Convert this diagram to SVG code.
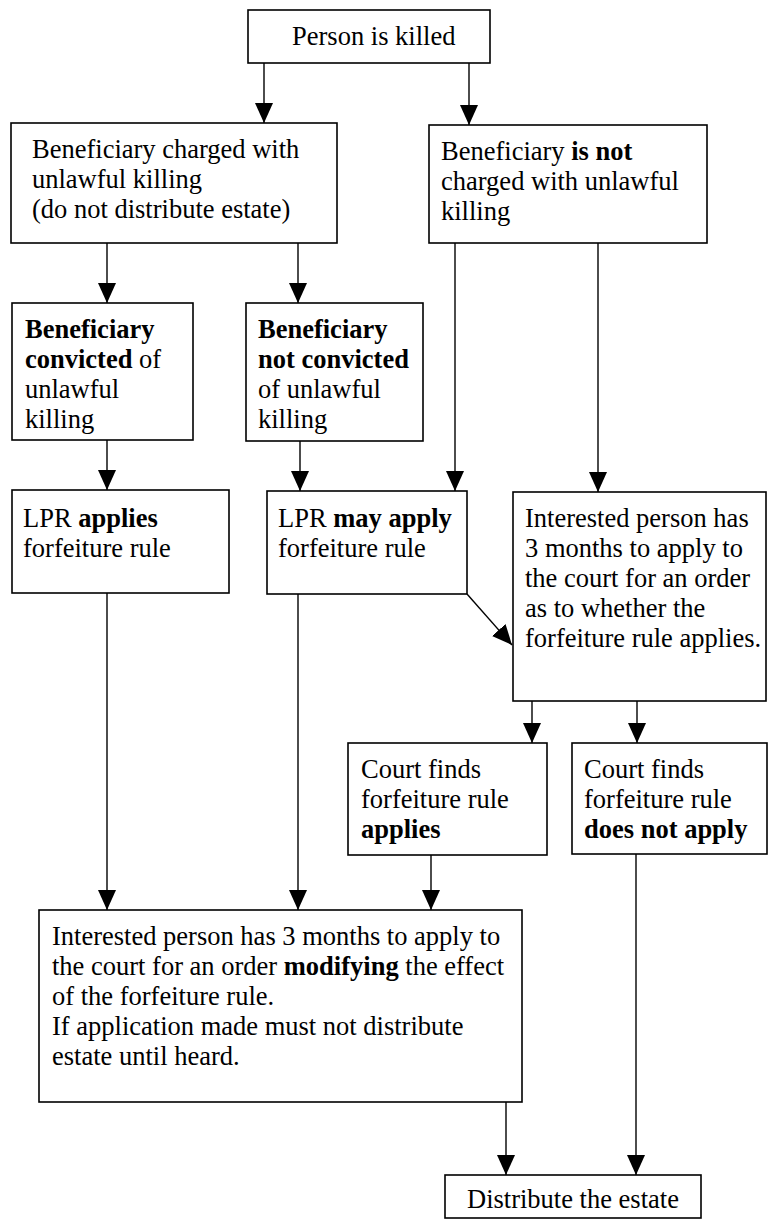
<svg xmlns="http://www.w3.org/2000/svg" width="768" height="1219" viewBox="0 0 768 1219">
<style>
.box{fill:#fff;stroke:#000;stroke-width:1.6}
.b{font-weight:bold}
.c{fill:none;stroke:#000;stroke-width:1.4}
</style>
<defs>
<marker id="ah" viewBox="0 0 20 18" markerWidth="20" markerHeight="18" refX="20" refY="9" orient="auto" markerUnits="userSpaceOnUse">
<path d="M0,0 L20,9 L0,18 z" fill="#000"/>
</marker>
</defs>
<rect width="768" height="1219" fill="#fff"/>
<g font-family="Liberation Serif, serif" font-size="26.5" fill="#000">
<g id="n1">
<rect class="box" x="248" y="10" width="242" height="53"/>
<text x="292" y="45">Person is killed</text>
</g>
<g id="n2">
<rect class="box" x="11" y="123" width="326" height="120"/>
<text x="32" y="158">Beneficiary charged with</text>
<text x="32" y="188">unlawful killing</text>
<text x="32" y="218">(do not distribute estate)</text>
</g>
<g id="n3">
<rect class="box" x="429" y="125" width="278" height="118"/>
<text x="441" y="160">Beneficiary <tspan class="b">is not</tspan></text>
<text x="441" y="190">charged with unlawful</text>
<text x="441" y="220">killing</text>
</g>
<g id="n4">
<rect class="box" x="12" y="303" width="181" height="137"/>
<text class="b" x="25" y="338">Beneficiary</text>
<text x="25" y="368"><tspan class="b">convicted</tspan> of</text>
<text x="25" y="398">unlawful</text>
<text x="25" y="428">killing</text>
</g>
<g id="n5">
<rect class="box" x="246" y="303" width="177" height="138"/>
<text class="b" x="258" y="338">Beneficiary</text>
<text class="b" x="258" y="368">not convicted</text>
<text x="258" y="398">of unlawful</text>
<text x="258" y="428">killing</text>
</g>
<g id="n6">
<rect class="box" x="12" y="490" width="217" height="103"/>
<text x="23" y="527">LPR <tspan class="b">applies</tspan></text>
<text x="23" y="557">forfeiture rule</text>
</g>
<g id="n7">
<rect class="box" x="267" y="491" width="200" height="103"/>
<text x="278" y="527">LPR <tspan class="b">may apply</tspan></text>
<text x="278" y="557">forfeiture rule</text>
</g>
<g id="n8">
<rect class="box" x="513" y="492" width="253" height="209"/>
<text x="525" y="527">Interested person has</text>
<text x="525" y="557">3 months to apply to</text>
<text x="525" y="587">the court for an order</text>
<text x="525" y="617">as to whether the</text>
<text x="525" y="647">forfeiture rule applies.</text>
</g>
<g id="n9">
<rect class="box" x="348" y="743" width="199" height="112"/>
<text x="361" y="778">Court finds</text>
<text x="361" y="808">forfeiture rule</text>
<text class="b" x="361" y="838">applies</text>
</g>
<g id="n10">
<rect class="box" x="572" y="743" width="195" height="111"/>
<text x="584" y="778">Court finds</text>
<text x="584" y="808">forfeiture rule</text>
<text class="b" x="584" y="838">does not apply</text>
</g>
<g id="n11">
<rect class="box" x="39" y="910" width="483" height="192"/>
<text x="52" y="945">Interested person has 3 months to apply to</text>
<text x="52" y="975">the court for an order <tspan class="b">modifying</tspan> the effect</text>
<text x="52" y="1005">of the forfeiture rule.</text>
<text x="52" y="1035">If application made must not distribute</text>
<text x="52" y="1065">estate until heard.</text>
</g>
<g id="n12">
<rect class="box" x="445" y="1175" width="256" height="43"/>
<text x="467" y="1208">Distribute the estate</text>
</g>
</g>
<g id="connectors">
<line class="c" x1="264" y1="63" x2="264" y2="123" marker-end="url(#ah)"/>
<line class="c" x1="469" y1="63" x2="469" y2="125" marker-end="url(#ah)"/>
<line class="c" x1="107" y1="243" x2="107" y2="303" marker-end="url(#ah)"/>
<line class="c" x1="298" y1="243" x2="298" y2="303" marker-end="url(#ah)"/>
<line class="c" x1="455" y1="243" x2="455" y2="491" marker-end="url(#ah)"/>
<line class="c" x1="598" y1="243" x2="598" y2="492" marker-end="url(#ah)"/>
<line class="c" x1="107" y1="440" x2="107" y2="490" marker-end="url(#ah)"/>
<line class="c" x1="300" y1="441" x2="300" y2="491" marker-end="url(#ah)"/>
<line class="c" x1="467" y1="594" x2="512" y2="645" marker-end="url(#ah)"/>
<line class="c" x1="532" y1="701" x2="532" y2="743" marker-end="url(#ah)"/>
<line class="c" x1="637" y1="701" x2="637" y2="743" marker-end="url(#ah)"/>
<line class="c" x1="107" y1="593" x2="107" y2="910" marker-end="url(#ah)"/>
<line class="c" x1="298" y1="594" x2="298" y2="910" marker-end="url(#ah)"/>
<line class="c" x1="431" y1="855" x2="431" y2="910" marker-end="url(#ah)"/>
<line class="c" x1="506" y1="1102" x2="506" y2="1175" marker-end="url(#ah)"/>
<line class="c" x1="636" y1="854" x2="636" y2="1175" marker-end="url(#ah)"/>
</g>
</svg>
